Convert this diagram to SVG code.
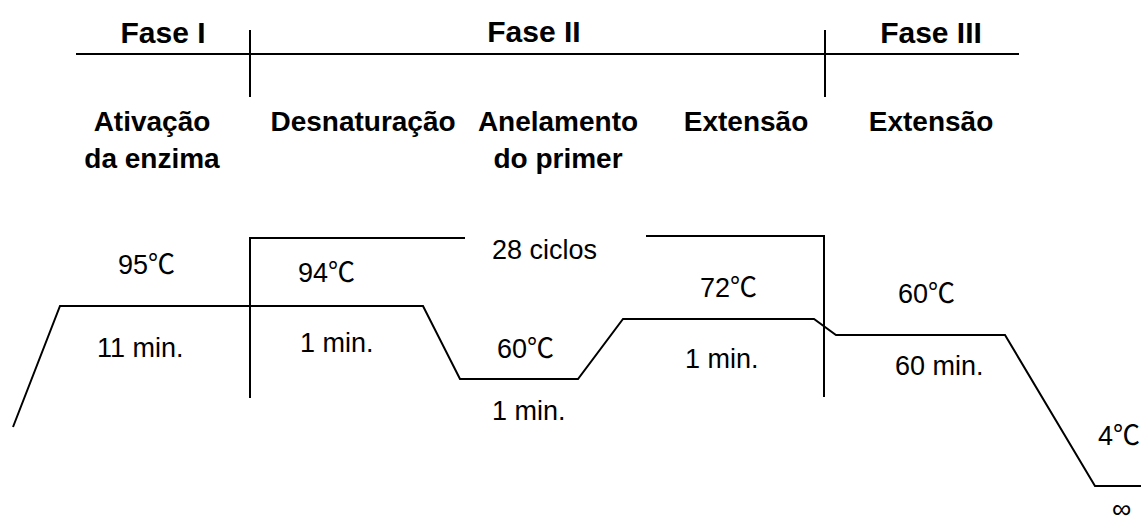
<svg xmlns="http://www.w3.org/2000/svg" width="1141" height="526" viewBox="0 0 1141 526">
<style>
.ln{stroke:#000;stroke-width:2;fill:none}
.t{font-family:"Liberation Sans",Arial,sans-serif;font-size:27px;fill:#000}
.c{font-family:"Noto Sans CJK SC",sans-serif}
.b{font-family:"Liberation Sans",Arial,sans-serif;font-weight:bold;font-size:28px;fill:#000;text-anchor:middle}
.f{font-size:30px}
</style>
<rect width="1141" height="526" fill="#fff"/>
<g id="header">
<line class="ln" x1="76" y1="54" x2="1019" y2="54"/>
<line class="ln" x1="250" y1="30" x2="250" y2="97"/>
<line class="ln" x1="825" y1="30" x2="825" y2="97"/>
<text class="b f" x="163" y="43">Fase I</text>
<text class="b f" x="534" y="42">Fase II</text>
<text class="b f" x="931" y="43">Fase III</text>
</g>
<g id="steps">
<text class="b" x="152" y="131">Ativação</text>
<text class="b" x="152" y="168">da enzima</text>
<text class="b" x="363" y="131">Desnaturação</text>
<text class="b" x="558" y="131">Anelamento</text>
<text class="b" x="558" y="168">do primer</text>
<text class="b" x="746" y="131">Extensão</text>
<text class="b" x="931" y="131">Extensão</text>
</g>
<g id="connectors">
<polyline class="ln" points="13,427 60,306 423,306 460,379 578,379 623,319 814,319 836,335 1005,335 1095,486 1141,486"/>
<polyline class="ln" points="465,238 250,238 250,398"/>
<polyline class="ln" points="646,236 824,236 824,397"/>
</g>
<g id="labels">
<text class="t" x="118" y="274">95<tspan class="c">℃</tspan></text>
<text class="t" x="298" y="282">94<tspan class="c">℃</tspan></text>
<text class="t" x="97" y="357">11 min.</text>
<text class="t" x="300" y="352">1 min.</text>
<text class="t" x="492" y="259">28 ciclos</text>
<text class="t" x="700" y="297">72<tspan class="c">℃</tspan></text>
<text class="t" x="497" y="358">60<tspan class="c">℃</tspan></text>
<text class="t" x="685" y="368">1 min.</text>
<text class="t" x="492" y="420">1 min.</text>
<text class="t" x="898" y="303">60<tspan class="c">℃</tspan></text>
<text class="t" x="895" y="375">60 min.</text>
<text class="t" x="1098" y="445">4<tspan class="c">℃</tspan></text>
<text class="t" x="1112" y="518">∞</text>
</g>
</svg>
